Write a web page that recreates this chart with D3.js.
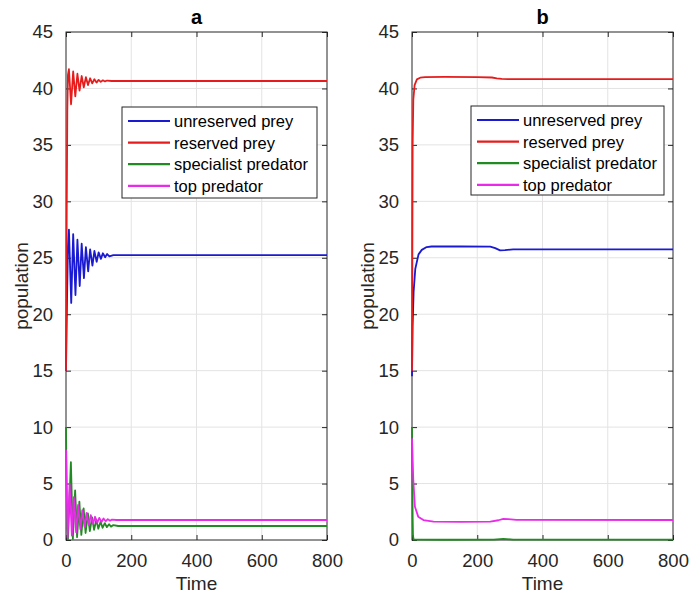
<!DOCTYPE html>
<html>
<head>
<meta charset="utf-8">
<script src="https://cdn.jsdelivr.net/npm/d3@7"></script>
<style>
  body { margin: 0; background: #fff; }
  svg { display: block; font-family: "Liberation Sans", Arial, sans-serif; }
</style>
</head>
<body>
<svg width="689" height="598"></svg>
<script>

// ---- data ----
var seriesNames = ["unreserved prey", "reserved prey", "specialist predator", "top predator"];
var xTicks = [0, 200, 400, 600, 800];
var yTicks = [0, 5, 10, 15, 20, 25, 30, 35, 40, 45];

// panel a : damped oscillations (extrema)
var unreservedA_t = [0, 3, 6, 9, 16, 22, 29, 35, 42, 48, 55, 61, 68, 74, 81, 87, 94, 100, 107, 113, 120, 126, 133, 145, 800];
var unreservedA_v = [15, 21, 26, 27.5, 21.0, 27.1, 21.7, 26.6, 22.5, 26.25, 23.2, 25.95, 23.8, 25.75, 24.3, 25.6, 24.65, 25.48, 24.9, 25.4, 25.05, 25.33, 25.12, 25.24, 25.24];

var reservedA_t = [0, 2, 4, 6, 9, 15.5, 22, 28.5, 35, 41.5, 48, 54.5, 61, 67.5, 74, 80.5, 87, 93.5, 100, 106.5, 113, 119.5, 126, 140, 800];
var reservedA_v = [15, 28, 38, 41.2, 41.7, 38.6, 41.5, 39.3, 41.3, 39.8, 41.1, 40.1, 41.0, 40.3, 40.9, 40.45, 40.82, 40.52, 40.76, 40.58, 40.72, 40.62, 40.7, 40.66, 40.66];

var specialistA_t = [0, 3, 6, 15, 21, 28, 34, 41, 47, 54, 60, 67, 73, 80, 86, 93, 99, 106, 112, 119, 125, 132, 138, 145, 160, 800];
var specialistA_v = [10, 1, 0.05, 6.9, 0.1, 4.4, 0.25, 3.4, 0.45, 2.8, 0.62, 2.35, 0.78, 2.0, 0.9, 1.8, 1.0, 1.62, 1.08, 1.5, 1.14, 1.4, 1.18, 1.32, 1.24, 1.24];

var topA_t = [0, 5, 11, 18, 24, 31, 37, 44, 50, 57, 63, 70, 76, 83, 89, 96, 102, 109, 115, 122, 128, 135, 141, 155, 800];
var topA_v = [8, 0.2, 5.0, 0.4, 3.8, 0.7, 3.1, 0.95, 2.65, 1.15, 2.4, 1.3, 2.2, 1.43, 2.06, 1.53, 1.96, 1.6, 1.9, 1.66, 1.85, 1.7, 1.81, 1.77, 1.77];

// panel b : smooth approach to equilibrium
var unreservedB_t = [0, 2, 5, 10, 20, 30, 45, 60, 150, 240, 255, 270, 285, 310, 800];
var unreservedB_v = [14.5, 19, 22, 24, 25.3, 25.7, 25.95, 26.0, 26.0, 25.98, 25.85, 25.65, 25.68, 25.75, 25.75];

var reservedB_t = [0, 1, 2, 4, 8, 15, 25, 40, 100, 200, 245, 260, 275, 295, 800];
var reservedB_v = [15, 25, 35, 39, 40.3, 40.8, 40.95, 41.0, 41.02, 41.0, 40.97, 40.9, 40.84, 40.82, 40.83];

var specialistB_t = [0, 1, 2, 3, 5, 100, 250, 280, 310, 800];
var specialistB_v = [10, 6, 2, 0.4, 0.03, 0.02, 0.03, 0.1, 0.04, 0.03];

var topB_t = [0, 2, 4, 9, 19, 35, 66, 150, 240, 265, 280, 295, 320, 800];
var topB_v = [9, 7, 5.3, 2.95, 2.07, 1.77, 1.62, 1.6, 1.62, 1.75, 1.88, 1.85, 1.78, 1.77];

var colors = ["#1a1ad2", "#e61c1c", "#228a22", "#ea2aea"];

var svg = d3.select("svg");

function drawPanel(left, right, title, series, legendBox) {
  var top = 32, bottom = 540;
  var x = d3.scaleLinear().domain([0, 800]).range([left, right]);
  var y = d3.scaleLinear().domain([0, 45]).range([bottom, top]);
  var g = svg.append("g");

  // grid
  g.append("g").selectAll("line")
    .data(xTicks.slice(1, -1))
    .enter().append("line")
      .attr("x1", function(d) { return x(d); })
      .attr("x2", function(d) { return x(d); })
      .attr("y1", top).attr("y2", bottom)
      .attr("stroke", "#e3e3e3");
  g.append("g").selectAll("line")
    .data(yTicks.slice(1, -1))
    .enter().append("line")
      .attr("y1", function(d) { return y(d); })
      .attr("y2", function(d) { return y(d); })
      .attr("x1", left).attr("x2", right)
      .attr("stroke", "#e3e3e3");

  // box + inward ticks on all four sides
  g.append("rect")
    .attr("x", left).attr("y", top)
    .attr("width", right - left).attr("height", bottom - top)
    .attr("fill", "none").attr("stroke", "#262626").attr("stroke-width", 1);

  var xb = g.append("g").attr("transform", "translate(0," + bottom + ")")
    .call(d3.axisBottom(x).tickValues(xTicks).tickSize(-5).tickPadding(14));
  var xt = g.append("g").attr("transform", "translate(0," + top + ")")
    .call(d3.axisTop(x).tickValues(xTicks).tickSize(-5).tickFormat(""));
  var yl = g.append("g").attr("transform", "translate(" + left + ",0)")
    .call(d3.axisLeft(y).tickValues(yTicks).tickSize(-5).tickPadding(13));
  var yr = g.append("g").attr("transform", "translate(" + right + ",0)")
    .call(d3.axisRight(y).tickValues(yTicks).tickSize(-5).tickFormat(""));
  [xb, xt, yl, yr].forEach(function(a) {
    a.select(".domain").remove();
    a.selectAll(".tick line").attr("stroke", "#262626");
    a.selectAll(".tick text")
      .attr("font-family", "Liberation Sans, Arial, sans-serif")
      .attr("font-size", "18.5px")
      .attr("fill", "#262626");
  });

  // curves
  var line = d3.line()
    .x(function(d) { return x(d[0]); })
    .y(function(d) { return y(d[1]); });
  series.forEach(function(s, i) {
    g.append("path")
      .datum(d3.zip(s[0], s[1]))
      .attr("fill", "none")
      .attr("stroke", colors[i])
      .attr("stroke-width", 1.8)
      .attr("stroke-linejoin", "round")
      .attr("d", line);
  });

  // title and labels
  g.append("text")
    .attr("x", (left + right) / 2).attr("y", 24)
    .attr("text-anchor", "middle")
    .attr("font-size", "20px").attr("font-weight", "bold")
    .attr("fill", "#000")
    .text(title);
  g.append("text")
    .attr("x", (left + right) / 2).attr("y", 590)
    .attr("text-anchor", "middle")
    .attr("font-size", "19px").attr("fill", "#262626")
    .text("Time");
  g.append("text")
    .attr("transform", "translate(" + (left - 38) + "," + ((top + bottom) / 2) + ") rotate(-90)")
    .attr("text-anchor", "middle")
    .attr("font-size", "19px").attr("fill", "#262626")
    .text("population");

  // legend
  var lg = g.append("g");
  lg.append("rect")
    .attr("x", legendBox[0]).attr("y", legendBox[1])
    .attr("width", legendBox[2]).attr("height", legendBox[3])
    .attr("fill", "#fff").attr("stroke", "#262626").attr("stroke-width", 1);
  seriesNames.forEach(function(name, i) {
    var ly = legendBox[1] + 14 + i * 21.6;
    lg.append("line")
      .attr("x1", legendBox[0] + 6).attr("x2", legendBox[0] + 48)
      .attr("y1", ly).attr("y2", ly)
      .attr("stroke", colors[i]).attr("stroke-width", 2.2);
    lg.append("text")
      .attr("x", legendBox[0] + 52).attr("y", ly + 6)
      .attr("font-size", "16.5px").attr("fill", "#000")
      .text(name);
  });
}

drawPanel(66, 327, "a",
  [[unreservedA_t, unreservedA_v], [reservedA_t, reservedA_v],
   [specialistA_t, specialistA_v], [topA_t, topA_v]],
  [122, 107, 195, 91]);

drawPanel(412, 673, "b",
  [[unreservedB_t, unreservedB_v], [reservedB_t, reservedB_v],
   [specialistB_t, specialistB_v], [topB_t, topB_v]],
  [471, 106, 193, 89]);

</script>
</body>
</html>
